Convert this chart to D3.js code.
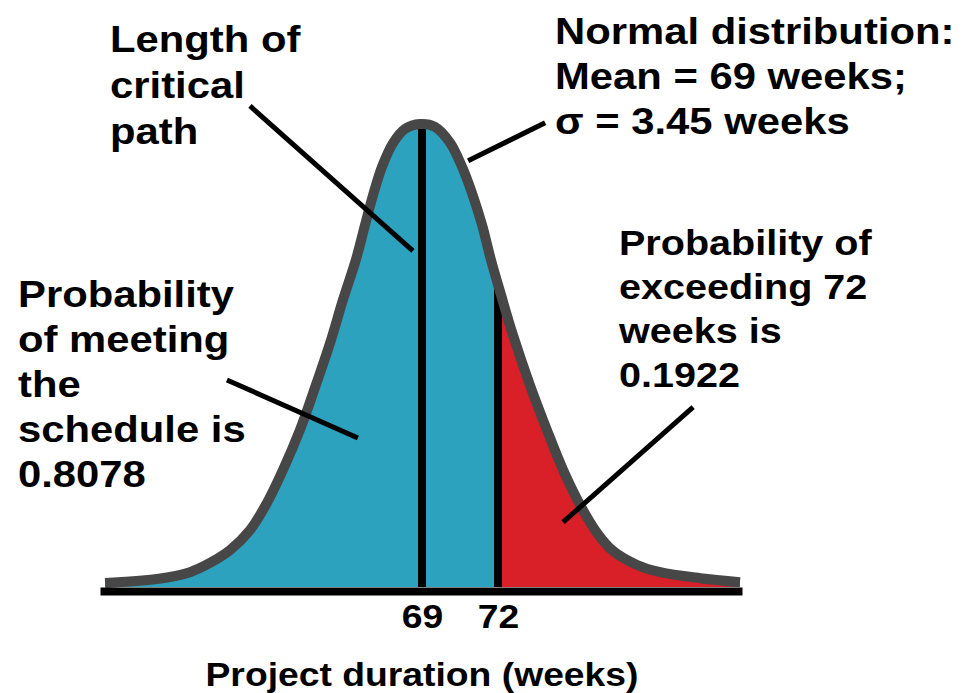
<!DOCTYPE html>
<html>
<head>
<meta charset="utf-8">
<script src="https://cdn.jsdelivr.net/npm/d3@7"></script>
<style>
  body { margin: 0; background: #fff; }
  text { font-family: "Liberation Sans", Arial, sans-serif; font-weight: bold; fill: #000; }
</style>
</head>
<body>
<script>
// curve: weeks and relative density
var weeks = [56.49, 58.54, 59.84, 60.63, 61.42, 62.21, 62.88, 63.51, 64.18, 64.70, 65.37, 65.88, 66.39, 66.75, 67.07, 67.42, 67.86, 68.33, 68.92,
             69.51, 70.11, 70.58, 70.97, 71.37, 71.72, 72.12, 72.59, 73.26, 73.93, 74.57, 75.24, 75.91, 76.54, 77.49, 78.40, 79.98, 81.55];
var density = [0.0010, 0.0020, 0.0037, 0.0060, 0.0092, 0.0142, 0.0210, 0.0292, 0.0392, 0.0484, 0.0609, 0.0717, 0.0817, 0.0904, 0.0979, 0.1049, 0.1109, 0.1144, 0.1156,
               0.1149, 0.1109, 0.1049, 0.0984, 0.0904, 0.0817, 0.0729, 0.0629, 0.0504, 0.0392, 0.0292, 0.0205, 0.0135, 0.0090, 0.0055, 0.0037, 0.0022, 0.0012];

var meanWeeks = 69;
var deadline = 72;
var tickWeeks = [69, 72];
var axisTitle = "Project duration (weeks)";

var labelCritical = ["Length of", "critical", "path"];
var labelNormal = ["Normal distribution:", "Mean = 69 weeks;", "\u03c3 = 3.45 weeks"];
var labelExceed = ["Probability of", "exceeding 72", "weeks is", "0.1922"];
var labelMeet = ["Probability", "of meeting", "the", "schedule is", "0.8078"];

// leader lines, in weeks / density
var leaders = [
  [[62.21, 0.1201], [68.64, 0.0839]],
  [[70.82, 0.1064], [73.86, 0.1159]],
  [[61.30, 0.0517], [66.47, 0.0372]],
  [[79.70, 0.0449], [74.57, 0.0162]]
];

var w = 974, h = 693;
var svg = d3.select("body").append("svg").attr("width", w).attr("height", h);

var x = d3.scaleLinear().domain([56.29, 81.63]).range([100, 742]);
var y = d3.scaleLinear().domain([0, 0.1156]).range([587, 124]);

var pts = weeks.map(function(d, i) { return [d, density[i]]; });

var area = d3.area()
  .x(function(d) { return x(d[0]); })
  .y0(y(0))
  .y1(function(d) { return y(d[1]); })
  .curve(d3.curveCatmullRom.alpha(0.5));
var line = d3.line()
  .x(function(d) { return x(d[0]); })
  .y(function(d) { return y(d[1]); })
  .curve(d3.curveCatmullRom.alpha(0.5));

var defs = svg.append("defs");
defs.append("clipPath").attr("id", "under").append("path").attr("d", area(pts));
defs.append("clipPath").attr("id", "tail").append("rect")
  .attr("x", x(deadline)).attr("y", 0)
  .attr("width", w - x(deadline)).attr("height", h);

svg.append("path").attr("d", area(pts)).attr("fill", "#2ca2bf");
svg.append("path").attr("d", area(pts)).attr("fill", "#d91f28").attr("clip-path", "url(#tail)");

svg.append("g").attr("clip-path", "url(#under)")
  .selectAll("line")
  .data([meanWeeks, deadline])
  .enter()
  .append("line")
  .attr("x1", function(d) { return x(d); })
  .attr("x2", function(d) { return x(d); })
  .attr("y1", y(0))
  .attr("y2", y(0.1156))
  .attr("stroke", "#000")
  .attr("stroke-width", 8);

svg.append("path").attr("d", line(pts))
  .attr("fill", "none")
  .attr("stroke", "#474747")
  .attr("stroke-width", 10)
  .attr("stroke-linejoin", "round");

var axis = svg.append("g")
  .attr("transform", "translate(0,591)")
  .call(d3.axisBottom(x).tickValues(tickWeeks).tickSize(0).tickSizeOuter(0).tickFormat(d3.format("d")));
axis.select(".domain").attr("stroke", "#000").attr("stroke-width", 8);
axis.selectAll("text")
  .attr("y", 37).attr("dy", 0)
  .attr("transform", "scale(1.13,1)")
  .style("font-size", "33px")
  .style("font-family", "'Liberation Sans', Arial, sans-serif")
  .style("font-weight", "bold")
  .attr("fill", "#000");

svg.append("text")
  .attr("transform", "translate(422,686) scale(1.13,1)")
  .attr("text-anchor", "middle")
  .style("font-size", "33px")
  .text(axisTitle);

svg.selectAll("line.leader")
  .data(leaders)
  .enter()
  .append("line")
  .attr("class", "leader")
  .attr("x1", function(d) { return x(d[0][0]); })
  .attr("y1", function(d) { return y(d[0][1]); })
  .attr("x2", function(d) { return x(d[1][0]); })
  .attr("y2", function(d) { return y(d[1][1]); })
  .attr("stroke", "#000")
  .attr("stroke-width", 5);

function block(lines, left, top, step, size) {
  svg.append("g").selectAll("text")
    .data(lines)
    .enter()
    .append("text")
    .attr("transform", function(d, i) { return "translate(" + left + "," + (top + i * step) + ") scale(1.13,1)"; })
    .style("font-size", size + "px")
    .text(function(d) { return d; });
}
block(labelCritical, 110, 52, 46, 37);
block(labelNormal, 555, 44, 45, 37);
block(labelExceed, 619, 255, 44, 35);
block(labelMeet, 18, 307, 45, 37);
</script>
</body>
</html>
